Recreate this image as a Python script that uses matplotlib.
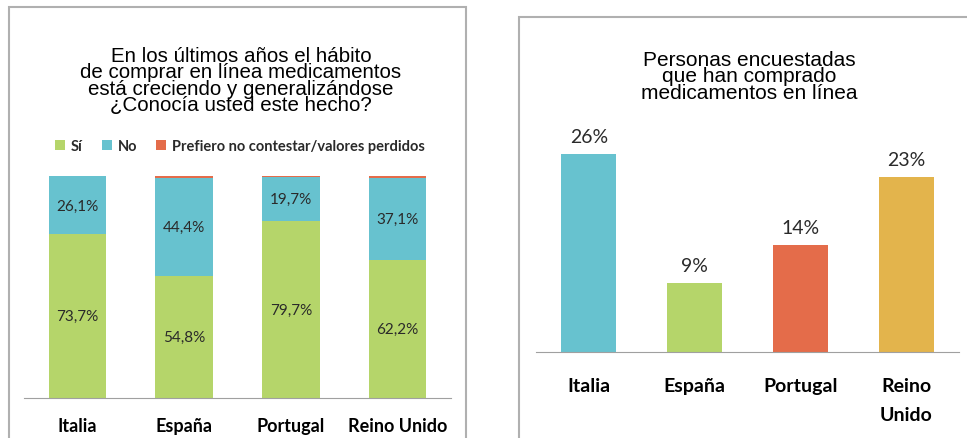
import matplotlib.pyplot as plt
from matplotlib.patches import Rectangle

W, H = 967, 439

# left chart data
paises = ['Italia', 'España', 'Portugal', 'Reino Unido']
si = [73.7, 54.8, 79.7, 62.2]
no = [26.1, 44.4, 19.7, 37.1]
prefiero = [0.2, 0.8, 0.6, 0.7]
series_izq = ['Sí', 'No', 'Prefiero no contestar/valores perdidos']

# right chart data
paises_der = ['Italia', 'España', 'Portugal', 'Reino\nUnido']
compra = [26, 9, 14, 23]

verde = '#B5D56A'
azul = '#67C2CF'
rojo = '#E46C4A'
oro = '#E3B44C'

lbl_font = 'Lato'
tit_font = 'Liberation Sans'


def ax_px(x0, x1, ytop, ybot):
    return fig.add_axes([x0 / W, 1 - ybot / H, (x1 - x0) / W, (ybot - ytop) / H])


fig = plt.figure(figsize=(W / 100, H / 100), dpi=100)
fig.patch.set_facecolor('white')

# panel frames
fig.patches.append(Rectangle((9 / W, -0.05), (466 - 9) / W, 1.05 - 8 / H,
                             transform=fig.transFigure, fill=False,
                             edgecolor='#B0B0B0', lw=1.5))
fig.patches.append(Rectangle((519 / W, -0.05), 0.5, 1.05 - 18 / H,
                             transform=fig.transFigure, fill=False,
                             edgecolor='#B0B0B0', lw=1.5))

# ---- left stacked chart
ax = ax_px(24, 451, 177, 399)
x = range(len(paises))
b1 = ax.bar(x, si, width=0.54, color=verde, label=series_izq[0])
b2 = ax.bar(x, no, width=0.54, bottom=si, color=azul, label=series_izq[1])
base3 = [a + b for a, b in zip(si, no)]
b3 = ax.bar(x, prefiero, width=0.54, bottom=base3, color=rojo, label=series_izq[2])
for i in x:
    ax.text(i, si[i] / 2, f'{si[i]:.1f}%'.replace('.', ','), ha='center', va='center',
            fontsize=11, family=lbl_font, color='#2a2a2a')
    ax.text(i, si[i] + no[i] / 2, f'{no[i]:.1f}%'.replace('.', ','), ha='center', va='center',
            fontsize=11, family=lbl_font, color='#2a2a2a')
ax.set_xlim(-0.5, 3.5)
ax.set_ylim(0, 100)
ax.set_xticks(list(x))
ax.set_xticklabels(paises, family=lbl_font, fontsize=13, fontweight='bold')
ax.tick_params(axis='x', length=0, pad=14)
ax.set_yticks([])
for s in ['top', 'right', 'left']:
    ax.spines[s].set_visible(False)
ax.spines['bottom'].set_color('#A0A0A0')

fig.text(241 / W, 1 - 81 / H,
         'En los últimos años el hábito\nde comprar en línea medicamentos\n'
         'está creciendo y generalizándose\n¿Conocía usted este hecho?',
         ha='center', va='center', family=tit_font, fontsize=14.8, linespacing=0.84)

leg = fig.legend(handles=[b1, b2, b3], loc='center', bbox_to_anchor=(240 / W, 1 - 147 / H),
                 ncol=3, frameon=False, prop={'family': lbl_font, 'size': 10.5, 'weight': 'bold'},
                 handlelength=0.7, handleheight=0.7, handletextpad=0.4, columnspacing=1.3)
for t in leg.get_texts():
    t.set_color('#2a2a2a')

# ---- right chart
ax2 = ax_px(536, 959, 124.4, 353)
x2 = range(len(paises_der))
ax2.bar(x2, compra, width=0.52, color=[azul, verde, rojo, oro])
for i in x2:
    ax2.text(i, compra[i] + 1.2, f'{compra[i]}%', ha='center', va='bottom',
             fontsize=14, family=lbl_font, color='#2a2a2a')
ax2.set_xlim(-0.5, 3.5)
ax2.set_ylim(0, 30)
ax2.set_xticks(list(x2))
ax2.set_xticklabels(paises_der, family=lbl_font, fontsize=14, fontweight='bold',
                    linespacing=1.85, va='top')
ax2.tick_params(axis='x', length=0, pad=18)
ax2.set_yticks([])
for s in ['top', 'right', 'left']:
    ax2.spines[s].set_visible(False)
ax2.spines['bottom'].set_color('#A0A0A0')

fig.text(749 / W, 1 - 77 / H,
         'Personas encuestadas\nque han comprado\nmedicamentos en línea',
         ha='center', va='center', family=tit_font, fontsize=15, linespacing=0.85)

fig.savefig('out.png', dpi=100)
